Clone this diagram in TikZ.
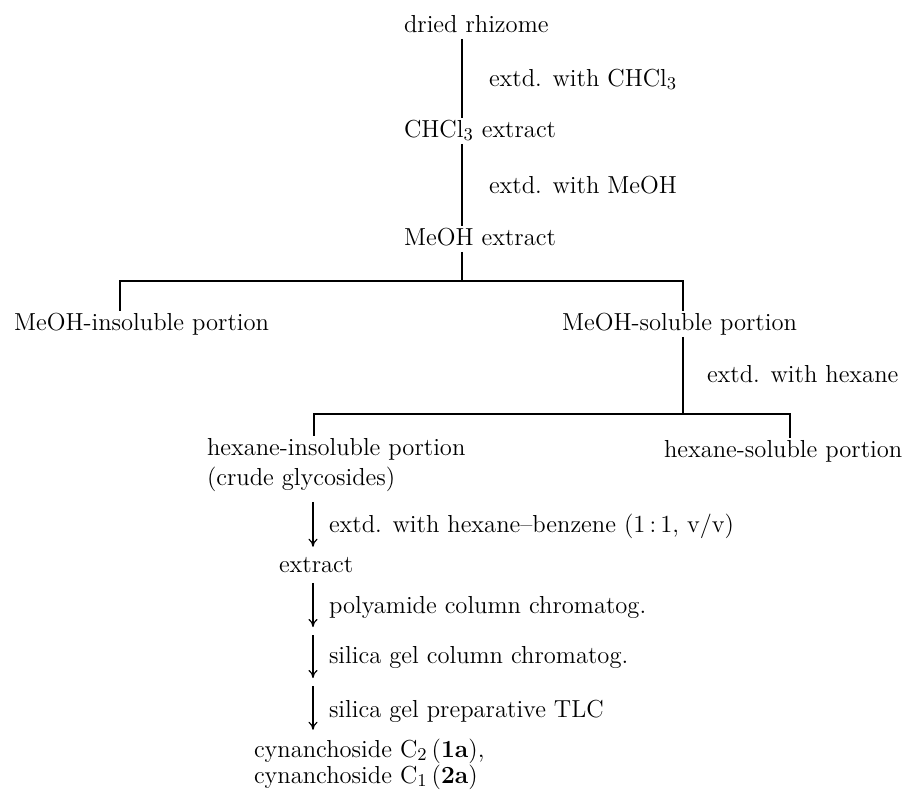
\documentclass[tikz,border=0pt]{standalone}
\usetikzlibrary{arrows.meta}
\begin{document}
\begin{tikzpicture}[x=0.5pt,y=-0.5pt,
  lbl/.style={anchor=base west, inner sep=0pt, outer sep=1pt, text height=8.6pt, text depth=2.4pt, font=\fontsize{12.3pt}{15pt}\selectfont},
  ln/.style={line width=0.6pt},
  arr/.style={line width=0.6pt, -{To[length=4pt,width=4.5pt]}}]
\useasboundingbox (0,0) rectangle (906,789);
\coordinate (spine) at (462,0);
\coordinate (ax) at (313,0);
\node[lbl] (rhiz) at (402,32) {dried rhizome};
\node[lbl] (c1) at (487,86) {extd. with CHCl$_3$};
\node[lbl] (chcl) at (402,137) {CHCl$_3$ extract};
\node[lbl] (c2) at (487,193) {extd. with MeOH};
\node[lbl] (meoh) at (402,245) {MeOH extract};
\coordinate (L1) at (120,281);
\coordinate (R1) at (683,281);
\coordinate (J1) at (462,281);
\node[lbl] (insol) at (12,330) {MeOH-insoluble portion};
\node[lbl] (sol) at (560,330) {MeOH-soluble portion};
\node[lbl] (c3) at (705,382) {extd. with hexane};
\coordinate (L2) at (314,414);
\coordinate (R2) at (790,414);
\coordinate (J2) at (683,414);
\node[lbl] (hins) at (205,455) {hexane-insoluble portion};
\node[lbl] (crude) at (205,485) {(crude glycosides)};
\node[lbl] (hsol) at (662,457) {hexane-soluble portion};
\node[lbl] (c4) at (327,532) {extd. with hexane--benzene (1\,:\,1, v/v)};
\node[lbl] (ext) at (277,572) {extract};
\node[lbl] (c5) at (327,613) {polyamide column chromatog.};
\coordinate (m1) at (313,631);
\node[lbl] (c6) at (327,663) {silica gel column chromatog.};
\coordinate (m2) at (313,682);
\node[lbl] (c7) at (327,717) {silica gel preparative TLC};
\node[lbl] (cy1) at (252,757) {cynanchoside C$_2$\,(\textbf{1a}),};
\node[lbl] (cy2) at (252,783) {cynanchoside C$_1$\,(\textbf{2a})};
\draw[ln] (rhiz.south -| spine) -- (chcl.north -| spine);
\draw[ln] (chcl.south -| spine) -- (meoh.north -| spine);
\draw[ln] (meoh.south -| spine) -- (J1);
\draw[ln] (insol.north -| L1) -- (L1) -- (R1) -- (sol.north -| R1);
\draw[ln] (sol.south -| R1) -- (J2);
\draw[ln] (hins.north -| L2) -- (L2) -- (R2) -- (hsol.north -| R2);
\draw[arr, shorten <=5pt, shorten >=3pt] (crude.south -| ax) -- (ext.north -| ax);
\draw[arr, shorten <=2pt, shorten >=2pt] (ext.south -| ax) -- (m1);
\draw[arr, shorten <=2pt, shorten >=2pt] (m1) -- (m2);
\draw[arr, shorten <=2pt, shorten >=4pt] (m2) -- (cy1.north -| ax);
\end{tikzpicture}
\end{document}
